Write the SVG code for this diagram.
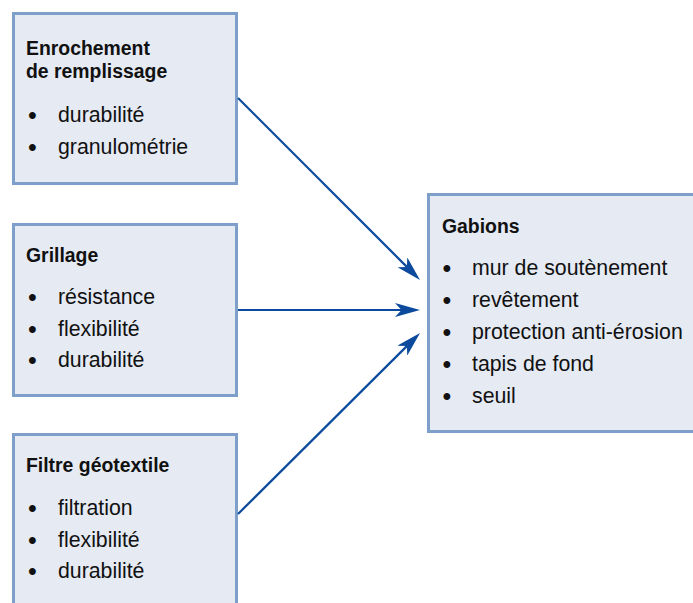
<svg xmlns="http://www.w3.org/2000/svg" width="693" height="603" viewBox="0 0 693 603">
  <style>
    .box { fill: #e5eaf3; stroke: #7f9fcb; stroke-width: 3; }
    .title { font-family: "Liberation Sans", Arial, Helvetica, sans-serif; font-size: 19.4px; font-weight: bold; fill: #111111; }
    .item { font-family: "Liberation Sans", Arial, Helvetica, sans-serif; font-size: 21.3px; fill: #111111; }
    .dot { font-family: "Liberation Sans", Arial, Helvetica, sans-serif; font-size: 25px; fill: #111111; }
    .link { fill: none; stroke: #0b4a9c; stroke-width: 2.2; }
  </style>
  <defs>
    <marker id="arrow" viewBox="-11 -7 25 14" refX="0" refY="0" markerWidth="25" markerHeight="14" markerUnits="userSpaceOnUse" orient="auto">
      <path d="M14,0 L-11,-7 L-4.5,0 L-11,7 Z" fill="#0b4a9c"/>
    </marker>
  </defs>

  <rect width="693" height="603" fill="#ffffff"/>

  <!-- source: rock fill -->
  <g id="enrochement">
    <rect class="box" x="13.5" y="13.5" width="223" height="170"/>
    <text class="title" x="26" y="55">Enrochement</text>
    <text class="title" x="26" y="78">de remplissage</text>
    <text class="dot" x="28" y="124">•</text>
    <text class="item" x="58" y="122">durabilité</text>
    <text class="dot" x="28" y="156">•</text>
    <text class="item" x="58" y="154">granulométrie</text>
  </g>

  <!-- source: wire mesh -->
  <g id="grillage">
    <rect class="box" x="13.5" y="224.5" width="223" height="171"/>
    <text class="title" x="26" y="262">Grillage</text>
    <text class="dot" x="28" y="306">•</text>
    <text class="item" x="58" y="304">résistance</text>
    <text class="dot" x="28" y="338">•</text>
    <text class="item" x="58" y="336">flexibilité</text>
    <text class="dot" x="28" y="369">•</text>
    <text class="item" x="58" y="367">durabilité</text>
  </g>

  <!-- source: geotextile filter -->
  <g id="filtre">
    <rect class="box" x="13.5" y="434.5" width="223" height="200"/>
    <text class="title" x="26" y="472">Filtre géotextile</text>
    <text class="dot" x="28" y="517">•</text>
    <text class="item" x="58" y="515">filtration</text>
    <text class="dot" x="28" y="549">•</text>
    <text class="item" x="58" y="547">flexibilité</text>
    <text class="dot" x="28" y="580">•</text>
    <text class="item" x="58" y="578">durabilité</text>
  </g>

  <!-- target: gabion uses -->
  <g id="gabions">
    <rect class="box" x="428.5" y="194.5" width="300" height="237"/>
    <text class="title" x="442" y="233">Gabions</text>
    <text class="dot" x="442.5" y="277">•</text>
    <text class="item" x="472" y="275">mur de soutènement</text>
    <text class="dot" x="442.5" y="309">•</text>
    <text class="item" x="472" y="307">revêtement</text>
    <text class="dot" x="442.5" y="341">•</text>
    <text class="item" x="472" y="339">protection anti-érosion</text>
    <text class="dot" x="442.5" y="373">•</text>
    <text class="item" x="472" y="371">tapis de fond</text>
    <text class="dot" x="442.5" y="405">•</text>
    <text class="item" x="472" y="403">seuil</text>
  </g>

  <g id="connectors">
    <line class="link" x1="238" y1="98" x2="410.1" y2="270.1" marker-end="url(#arrow)"/>
    <line class="link" x1="238" y1="310" x2="406" y2="310" marker-end="url(#arrow)"/>
    <line class="link" x1="238" y1="514" x2="410.1" y2="342.9" marker-end="url(#arrow)"/>
  </g>
</svg>
